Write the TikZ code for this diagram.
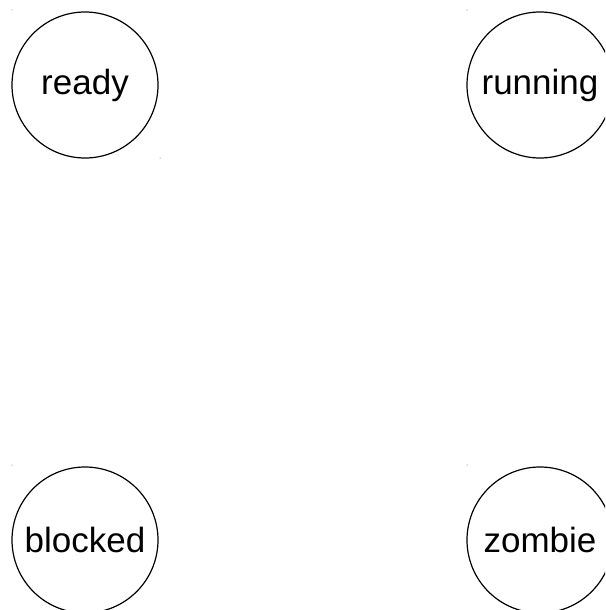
\documentclass[tikz,border=0pt]{standalone}
\usepackage{fontspec}
\setmainfont{Liberation Sans}
\begin{document}
\begin{tikzpicture}[x=1pt,y=-1pt,
  state/.style={draw=black,line width=1.2pt,circle,minimum size=146pt,inner sep=0pt,font=\fontsize{35}{40}\selectfont},
  speck/.style={fill=black!60,circle,inner sep=0pt,minimum size=1pt}]
\useasboundingbox (0,0) rectangle (605,610);
\begin{scope}
\clip (0,0) rectangle (605,610);
\node[state] (ready) at (85,85) {ready};
\node[state] (running) at (540,85) {running};
\node[state] (blocked) at (85,540) {blocked};
\node[state] (zombie) at (540,540) {zombie};
\end{scope}
\node[speck] (s1) at (12,10) {};
\node[speck] (s2) at (160,158) {};
\node[speck] (s3) at (467,10) {};
\node[speck] (s4) at (12,465) {};
\node[speck] (s5) at (467,465) {};
\end{tikzpicture}
\end{document}
